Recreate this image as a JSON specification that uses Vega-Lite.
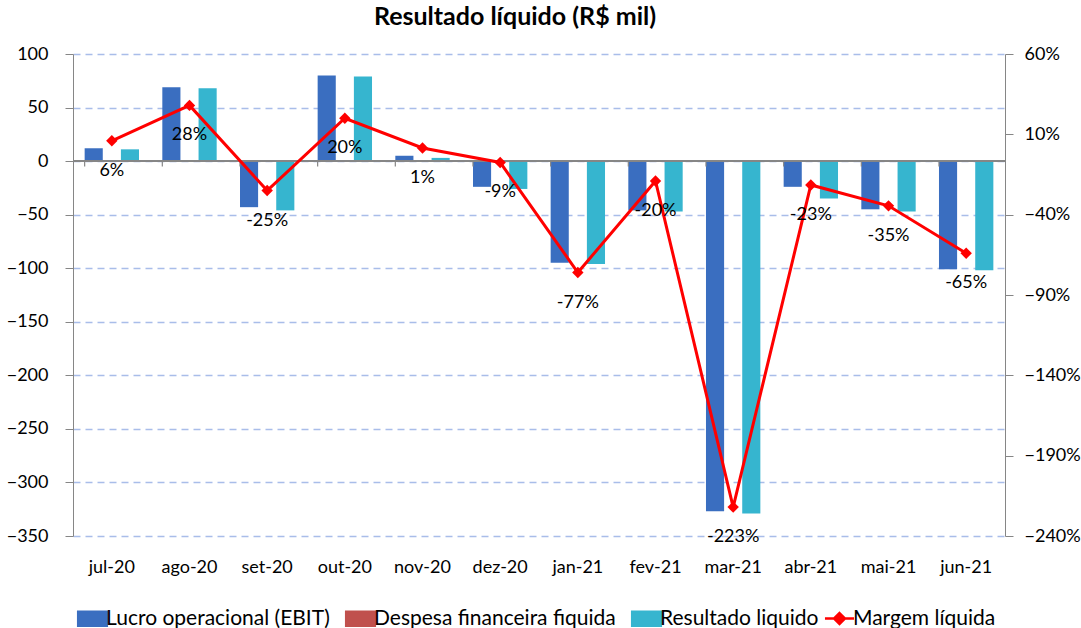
{
  "$schema": "https://vega.github.io/schema/vega-lite/v6.json",
  "autosize": {"type": "none"},
  "width": 932,
  "height": 482,
  "padding": {"left": 73, "top": 54, "right": 76, "bottom": 92},
  "background": "white",
  "config": {
    "font": "Lato",
    "view": {"stroke": null},
    "axis": {"labelFont": "Lato", "labelFontSize": 18, "labelColor": "#000000"},
    "legend": {"layout": {"bottom": {"anchor": "middle", "direction": "horizontal", "margin": 10}}}
  },
  "title": {
    "text": "Resultado líquido (R$ mil)",
    "font": "Lato",
    "fontSize": 25,
    "fontWeight": "bold",
    "color": "#000000",
    "anchor": "middle",
    "offset": 15,
    "dx": -24
  },
  "datasets": {
    "bars": [
      {"mes": "jul-20", "serie": "Lucro operacional (EBIT)", "valor": 12},
      {"mes": "jul-20", "serie": "Despesa financeira fiquida", "valor": -0.5},
      {"mes": "jul-20", "serie": "Resultado liquido", "valor": 11},
      {"mes": "ago-20", "serie": "Lucro operacional (EBIT)", "valor": 69},
      {"mes": "ago-20", "serie": "Despesa financeira fiquida", "valor": -0.5},
      {"mes": "ago-20", "serie": "Resultado liquido", "valor": 68},
      {"mes": "set-20", "serie": "Lucro operacional (EBIT)", "valor": -43},
      {"mes": "set-20", "serie": "Despesa financeira fiquida", "valor": -0.5},
      {"mes": "set-20", "serie": "Resultado liquido", "valor": -46},
      {"mes": "out-20", "serie": "Lucro operacional (EBIT)", "valor": 80},
      {"mes": "out-20", "serie": "Despesa financeira fiquida", "valor": -0.5},
      {"mes": "out-20", "serie": "Resultado liquido", "valor": 79},
      {"mes": "nov-20", "serie": "Lucro operacional (EBIT)", "valor": 5},
      {"mes": "nov-20", "serie": "Despesa financeira fiquida", "valor": -0.5},
      {"mes": "nov-20", "serie": "Resultado liquido", "valor": 3},
      {"mes": "dez-20", "serie": "Lucro operacional (EBIT)", "valor": -24},
      {"mes": "dez-20", "serie": "Despesa financeira fiquida", "valor": -0.5},
      {"mes": "dez-20", "serie": "Resultado liquido", "valor": -26},
      {"mes": "jan-21", "serie": "Lucro operacional (EBIT)", "valor": -95},
      {"mes": "jan-21", "serie": "Despesa financeira fiquida", "valor": -0.5},
      {"mes": "jan-21", "serie": "Resultado liquido", "valor": -96},
      {"mes": "fev-21", "serie": "Lucro operacional (EBIT)", "valor": -46},
      {"mes": "fev-21", "serie": "Despesa financeira fiquida", "valor": -0.5},
      {"mes": "fev-21", "serie": "Resultado liquido", "valor": -47},
      {"mes": "mar-21", "serie": "Lucro operacional (EBIT)", "valor": -327},
      {"mes": "mar-21", "serie": "Despesa financeira fiquida", "valor": -0.5},
      {"mes": "mar-21", "serie": "Resultado liquido", "valor": -329},
      {"mes": "abr-21", "serie": "Lucro operacional (EBIT)", "valor": -24},
      {"mes": "abr-21", "serie": "Despesa financeira fiquida", "valor": -0.5},
      {"mes": "abr-21", "serie": "Resultado liquido", "valor": -35},
      {"mes": "mai-21", "serie": "Lucro operacional (EBIT)", "valor": -45},
      {"mes": "mai-21", "serie": "Despesa financeira fiquida", "valor": -0.5},
      {"mes": "mai-21", "serie": "Resultado liquido", "valor": -47},
      {"mes": "jun-21", "serie": "Lucro operacional (EBIT)", "valor": -101},
      {"mes": "jun-21", "serie": "Despesa financeira fiquida", "valor": -0.5},
      {"mes": "jun-21", "serie": "Resultado liquido", "valor": -102}
    ],
    "margem": [
      {"mes": "jul-20", "margem": 0.06, "rotulo": "6%"},
      {"mes": "ago-20", "margem": 0.28, "rotulo": "28%"},
      {"mes": "set-20", "margem": -0.25, "rotulo": "-25%"},
      {"mes": "out-20", "margem": 0.20, "rotulo": "20%"},
      {"mes": "nov-20", "margem": 0.015, "rotulo": "1%"},
      {"mes": "dez-20", "margem": -0.075, "rotulo": "-9%"},
      {"mes": "jan-21", "margem": -0.76, "rotulo": "-77%"},
      {"mes": "fev-21", "margem": -0.19, "rotulo": "-20%"},
      {"mes": "mar-21", "margem": -2.22, "rotulo": "-223%"},
      {"mes": "abr-21", "margem": -0.215, "rotulo": "-23%"},
      {"mes": "mai-21", "margem": -0.345, "rotulo": "-35%"},
      {"mes": "jun-21", "margem": -0.64, "rotulo": "-65%"}
    ]
  },
  "encoding": {
    "x": {
      "field": "mes",
      "type": "nominal",
      "sort": null,
      "scale": {"paddingInner": 0.3, "paddingOuter": 0.15},
      "axis": {
        "title": null,
        "labelAngle": 0,
        "domain": false,
        "ticks": false,
        "labelPadding": 22
      }
    }
  },
  "layer": [
    {
      "layer": [
        {
          "data": {"name": "bars"},
          "mark": {"type": "bar", "stroke": null},
          "encoding": {
            "xOffset": {
              "field": "serie",
              "type": "nominal",
              "sort": ["Lucro operacional (EBIT)", "Despesa financeira fiquida", "Resultado liquido"],
              "scale": {"paddingInner": 0}
            },
            "y": {
              "field": "valor",
              "type": "quantitative",
              "scale": {"domain": [-350, 100], "nice": false, "zero": false},
              "axis": {
                "title": null,
                "values": [100, 50, 0, -50, -100, -150, -200, -250, -300, -350],
                "domainColor": "#868686",
                "tickColor": "#868686",
                "tickSize": 8,
                "labelPadding": 17,
                "grid": true,
                "gridColor": "#a9bde9",
                "gridDash": [7, 5],
                "gridWidth": 1.3
              }
            },
            "fill": {
              "field": "serie",
              "type": "nominal",
              "scale": {
                "domain": ["Lucro operacional (EBIT)", "Despesa financeira fiquida", "Resultado liquido"],
                "range": ["#3a6ec0", "#c0504d", "#36b5cf"]
              },
              "legend": {
                "title": null,
                "orient": "bottom",
                "direction": "horizontal",
                "labelFont": "Lato",
                "labelFontSize": 21,
                "labelColor": "#000000",
                "labelLimit": 400,
                "symbolType": "M-1.5,-0.8H1.5V0.8H-1.5Z",
                "symbolSize": 430,
                "symbolStrokeWidth": 0,
                "labelOffset": 3,
                "columnPadding": 14,
                "offset": 32
              }
            }
          }
        },
        {
          "data": {"name": "margem"},
          "mark": {"type": "rule", "color": "#868686", "strokeWidth": 1.2},
          "encoding": {
            "x": {"field": "mes", "type": "nominal", "sort": null, "bandPosition": 0},
            "y": {"datum": 0},
            "y2": {"datum": -5}
          }
        },
        {
          "data": {"name": "margem"},
          "mark": {"type": "rule", "color": "#868686", "strokeWidth": 1.2},
          "encoding": {
            "x": {"value": 0},
            "x2": {"value": 932},
            "y": {"datum": 0}
          }
        }
      ]
    },
    {
      "data": {"name": "margem"},
      "encoding": {
        "y": {
          "field": "margem",
          "type": "quantitative",
          "scale": {"domain": [-2.4, 0.6], "nice": false, "zero": false},
          "axis": {
            "title": null,
            "orient": "right",
            "values": [0.6, 0.1, -0.4, -0.9, -1.4, -1.9, -2.4],
            "format": ".0%",
            "domainColor": "#868686",
            "tickColor": "#868686",
            "tickSize": 8,
            "labelPadding": 11,
            "grid": false
          }
        }
      },
      "layer": [
        {
          "mark": {"type": "line", "strokeWidth": 3},
          "encoding": {
            "stroke": {
              "datum": "Margem líquida",
              "scale": {"range": ["#ff0000"]},
              "legend": {
                "title": null,
                "orient": "bottom",
                "labelFont": "Lato",
                "labelFontSize": 21,
                "labelColor": "#000000",
                "labelLimit": 400,
                "symbolType": "M-1.6,0H1.6M0,-0.6L0.6,0L0,0.6L-0.6,0Z",
                "symbolSize": 330,
                "symbolStrokeWidth": 2.5,
                "symbolFillColor": "#ff0000",
                "labelOffset": 3,
                "offset": 32
              }
            }
          }
        },
        {
          "mark": {"type": "point", "shape": "diamond", "filled": true, "size": 130, "opacity": 1, "color": "#ff0000"}
        },
        {
          "mark": {"type": "text", "dy": 30, "fontSize": 18, "font": "Lato", "color": "#000000"},
          "encoding": {"text": {"field": "rotulo"}}
        }
      ]
    }
  ],
  "resolve": {"scale": {"y": "independent"}}
}
